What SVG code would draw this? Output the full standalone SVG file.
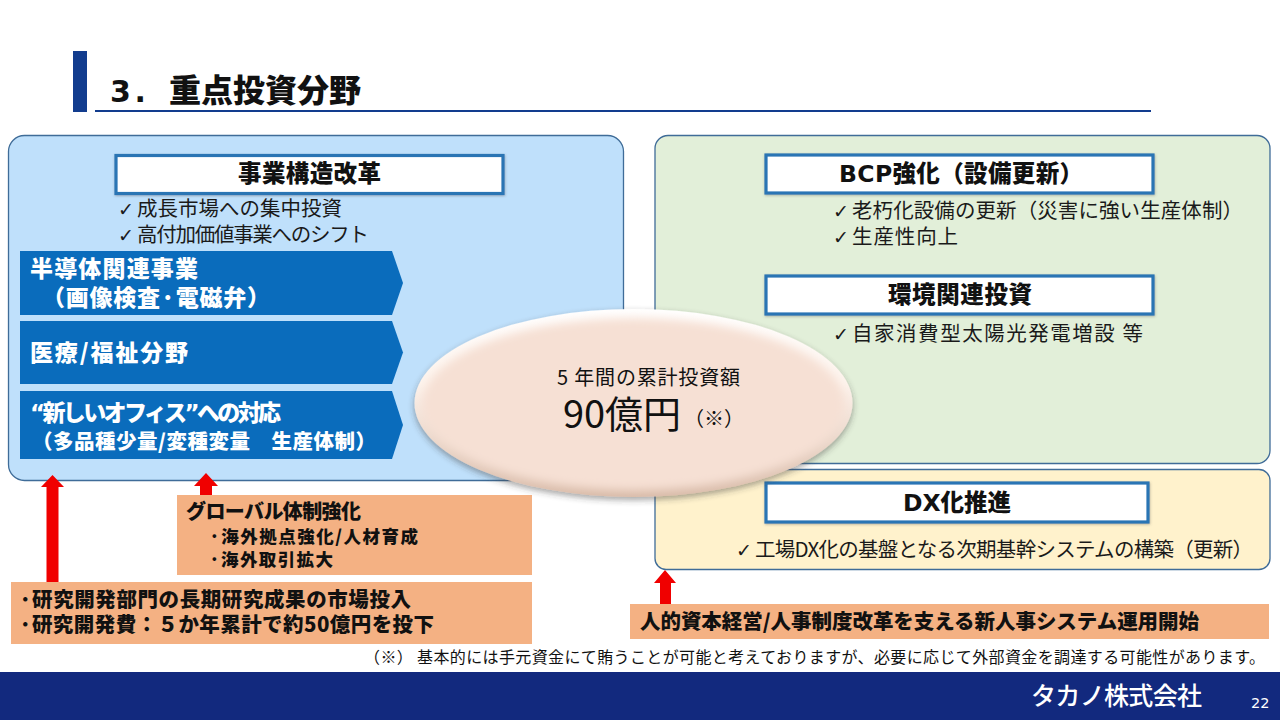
<svg xmlns="http://www.w3.org/2000/svg" width="1280" height="720" viewBox="0 0 1280 720">
<style>
text{font-family:"DejaVu Sans","Noto Sans CJK JP",sans-serif;fill:#111}
.cjk,.cjk text{font-family:"Noto Sans CJK JP",sans-serif}
.b{font-weight:900}
.hd{font-size:23.5px;font-weight:800;fill:#111}
.body{font-size:20.5px;fill:#1a1a1a;font-family:"Noto Sans CJK JP",sans-serif}
.chk{font-size:19px;fill:#1a1a1a;font-family:"DejaVu Sans",sans-serif}
.w{font-weight:900;fill:#fff;font-size:23px}
.or{font-weight:900;fill:#111}
.panel{stroke:#3f6c98;stroke-width:1.3}
.hbox{fill:#fff;stroke:#2a74b4;stroke-width:3.2;filter:url(#soft)}
.pent{fill:#0a6cbc}
.orange{fill:#f4b183}
.arrow{fill:#f00000}
</style>
<defs>
<filter id="soft" x="-5%" y="-20%" width="110%" height="140%"><feDropShadow dx="0.5" dy="1" stdDeviation="1.2" flood-color="#555" flood-opacity=".4"/></filter>
<filter id="ellShadow" x="-10%" y="-10%" width="120%" height="125%"><feDropShadow dx="0" dy="3" stdDeviation="3" flood-color="#333" flood-opacity=".45"/></filter>
<filter id="blur" x="-10%" y="-15%" width="120%" height="130%"><feGaussianBlur stdDeviation="5"/></filter>
<linearGradient id="ellEdge" x1="0" y1="0" x2="0" y2="1"><stop offset="0" stop-color="#ffffff"/><stop offset=".4" stop-color="#fdf3ec"/><stop offset="1" stop-color="#d9bba9"/></linearGradient>
</defs>

<g id="title">
<rect x="73" y="51" width="14" height="61" fill="#123c8e"/>
<rect x="95" y="110" width="1056" height="2" fill="#123c8e"/>
<text class="b" x="110" y="102" font-size="30" textLength="36" lengthAdjust="spacing">3.</text>
<text class="b cjk" x="169" y="102" font-size="32" textLength="192" lengthAdjust="spacing">重点投資分野</text>
</g>

<g id="panel-left">
<rect class="panel" x="8.5" y="135.5" width="615" height="345" rx="16" fill="#bfe0fb"/>
</g>
<g id="panel-green">
<rect class="panel" x="655" y="135.5" width="615" height="328" rx="13" fill="#e2efd9"/>
</g>
<g id="panel-yellow">
<rect class="panel" x="655" y="469.5" width="615" height="100" rx="11" fill="#fff2cc"/>
</g>

<g id="node-jigyo">
<rect class="hbox" x="116" y="155.500" width="387" height="38"/>
<text class="hd cjk" x="238" y="182" textLength="143" lengthAdjust="spacing">事業構造改革</text>
<text class="chk" x="118" y="216">✓</text>
<text class="body" x="137" y="216" textLength="205" lengthAdjust="spacing">成長市場への集中投資</text>
<text class="chk" x="118" y="242">✓</text>
<text class="body" x="137" y="242" textLength="232" lengthAdjust="spacing">高付加価値事業へのシフト</text>
</g>

<g id="node-semi">
<polygon class="pent" points="20,251 392,251 403,283 392,315 20,315"/>
<text class="w cjk" x="30" y="277" textLength="168" lengthAdjust="spacing">半導体関連事業</text>
<text class="w cjk" x="42" y="306" textLength="228" lengthAdjust="spacing">（画像検査·電磁弁）</text>
</g>
<g id="node-medical">
<polygon class="pent" points="20,321 392,321 403,352.500 392,384 20,384"/>
<text class="w cjk" x="30" y="361" textLength="158" lengthAdjust="spacing">医療/福祉分野</text>
</g>
<g id="node-office">
<polygon class="pent" points="20,391 392,391 403,425 392,459 20,459"/>
<text class="w" x="30" y="421" textLength="251" lengthAdjust="spacing">“新しいオフィス”への対応</text>
<text class="w cjk" style="font-size:20.500px" x="32" y="449" textLength="344" lengthAdjust="spacing">（多品種少量/変種変量　生産体制）</text>
</g>

<g id="node-global">
<rect class="orange" x="177" y="495" width="355" height="80"/>
<text class="or cjk" font-size="20" x="186" y="519" textLength="175" lengthAdjust="spacing">グローバル体制強化</text>
<text class="or cjk" font-size="17.500" x="209" y="543" textLength="209" lengthAdjust="spacing">·海外拠点強化/人材育成</text>
<text class="or cjk" font-size="17.500" x="209" y="566" textLength="124" lengthAdjust="spacing">·海外取引拡大</text>
</g>
<g id="node-rnd">
<rect class="orange" x="11" y="582" width="521" height="62"/>
<text class="or cjk" font-size="20.500" x="19" y="607" textLength="392" lengthAdjust="spacing">·研究開発部門の長期研究成果の市場投入</text>
<text class="or cjk" font-size="20.500" x="19" y="632" textLength="415" lengthAdjust="spacing">·研究開発費：５か年累計で約50億円を投下</text>
</g>
<g id="node-hr">
<rect class="orange" x="630" y="604" width="639" height="35"/>
<text class="or cjk" font-size="20.500" x="640" y="629" textLength="559" lengthAdjust="spacing">人的資本経営/人事制度改革を支える新人事システム運用開始</text>
</g>

<g id="connectors">
<polygon class="arrow" points="52.500,475 64,487 58.500,487 58.500,582 46.500,582 46.500,487 41,487"/>
<polygon class="arrow" points="206,473 218,486 212,486 212,495 200,495 200,486 194,486"/>
<polygon class="arrow" points="665,570 676,583 671,583 671,604 660,604 660,583 654,583"/>
</g>

<g id="node-bcp">
<rect class="hbox" x="766" y="155" width="387" height="38"/>
<text class="hd" x="839" y="182" textLength="244" lengthAdjust="spacing">BCP強化（設備更新）</text>
<text class="chk" x="833" y="218">✓</text>
<text class="body" x="852" y="218" textLength="391" lengthAdjust="spacing">老朽化設備の更新（災害に強い生産体制）</text>
<text class="chk" x="833" y="244">✓</text>
<text class="body" x="852" y="244" textLength="106" lengthAdjust="spacing">生産性向上</text>
</g>
<g id="node-env">
<rect class="hbox" x="766" y="276" width="387" height="38"/>
<text class="hd cjk" x="888" y="303" textLength="144" lengthAdjust="spacing">環境関連投資</text>
<text class="chk" x="833" y="341">✓</text>
<text class="body" x="852" y="341" textLength="291" lengthAdjust="spacing">自家消費型太陽光発電増設 等</text>
</g>
<g id="node-dx">
<rect class="hbox" x="766" y="483" width="382" height="39"/>
<text class="hd" x="903" y="511" textLength="108" lengthAdjust="spacing">DX化推進</text>
<text class="chk" x="736" y="557">✓</text>
<text class="body" x="755" y="557" textLength="498" lengthAdjust="spacing">工場DX化の基盤となる次期基幹システムの構築（更新）</text>
</g>

<g id="node-total">
<ellipse cx="633.500" cy="403" rx="219" ry="94" fill="url(#ellEdge)" filter="url(#ellShadow)"/>
<ellipse cx="633.500" cy="404" rx="211" ry="86" fill="#f6e0d4" filter="url(#blur)"/>
<text class="cjk" font-size="20" x="557" y="385" textLength="183" lengthAdjust="spacing">5 年間の累計投資額</text>
<text class="cjk" font-size="38" x="563" y="428" textLength="118" lengthAdjust="spacing">90億円</text>
<text class="cjk" font-size="20" x="684" y="426">（※）</text>
</g>

<g id="footnote">
<text class="cjk" font-size="16" x="364" y="663" textLength="901" lengthAdjust="spacing">（※） 基本的には手元資金にて賄うことが可能と考えておりますが、必要に応じて外部資金を調達する可能性があります。</text>
</g>

<g id="footer">
<rect x="0" y="672" width="1280" height="48" fill="#12297e"/>
<text class="cjk" font-size="25" font-weight="500" style="fill:#fff" x="1031" y="705" textLength="171" lengthAdjust="spacing">タカノ株式会社</text>
<text font-size="14.500" style="fill:#fff" x="1251" y="708">22</text>
</g>
</svg>
